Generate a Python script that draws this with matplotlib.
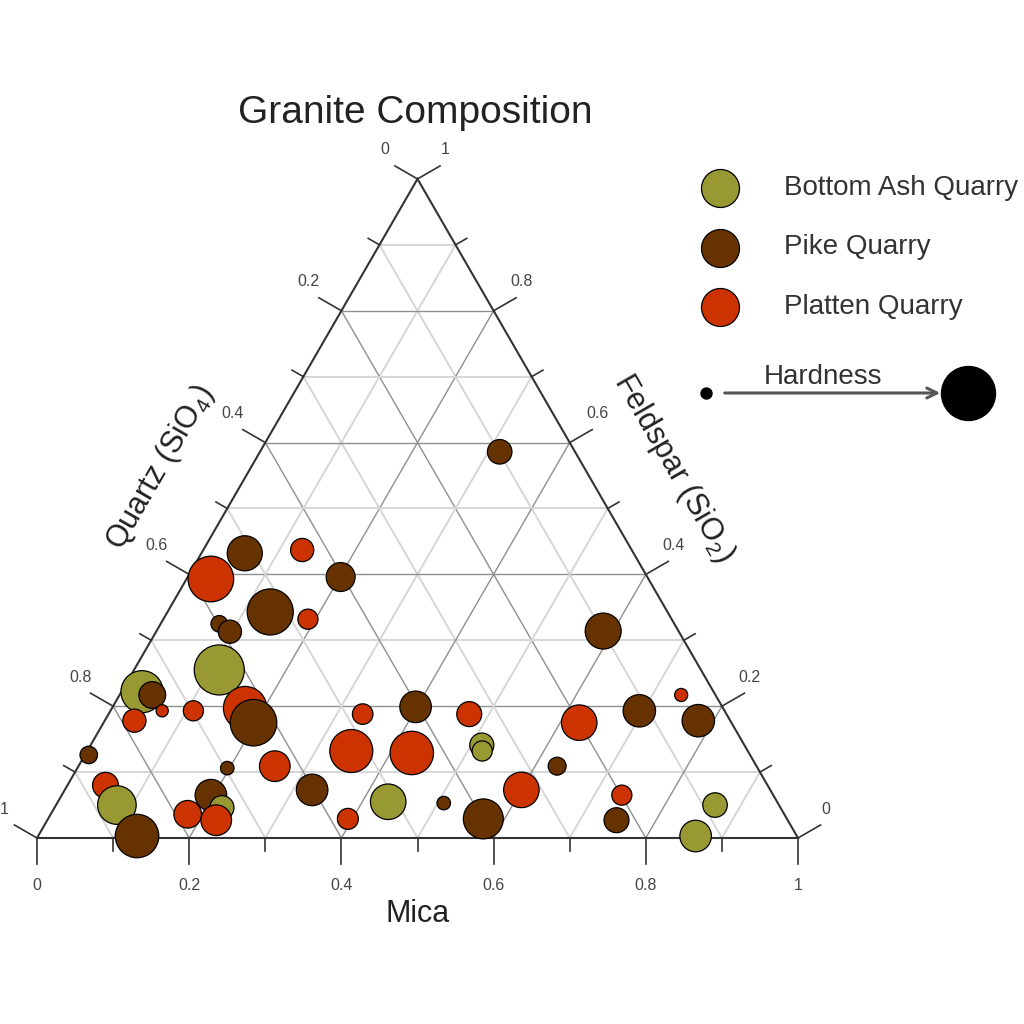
import numpy as np
import matplotlib.pyplot as plt

plt.rcParams['font.family'] = ['Liberation Sans', 'DejaVu Sans']
plt.rcParams['mathtext.fontset'] = 'custom'
plt.rcParams['mathtext.rm'] = 'Liberation Sans'
plt.rcParams['mathtext.default'] = 'regular'

# ternary data: mica and feldspar fractions (quartz = rest), hardness 0-10
ash_mica = [0.112, 0.027, 0.080, 0.220, 0.434, 0.514, 0.519, 0.866, 0.864]
ash_feld = [0.255, 0.222, 0.050, 0.046, 0.055, 0.141, 0.132, 0.050, 0.003]
ash_hard = [9.1, 7.3, 6.5, 3.2, 5.8, 3.2, 2.3, 3.3, 4.9]

pike_mica = [0.315, 0.057, 0.201, 0.135, 0.077, 0.097, 0.587, 0.043, 0.197, 0.398, 0.695,
             0.780, 0.005, 0.438, 0.629, 0.197, 0.325, 0.196, 0.508, 0.130, 0.572, 0.748]
pike_feld = [0.586, 0.432, 0.396, 0.343, 0.325, 0.313, 0.314, 0.217, 0.175, 0.199, 0.193,
             0.178, 0.126, 0.129, 0.109, 0.106, 0.073, 0.065, 0.053, 0.003, 0.029, 0.027]
pike_hard = [3.3, 5.7, 4.3, 8.2, 1.5, 3.0, 5.9, 3.8, 8.3, 4.9, 5.1,
             5.1, 1.7, 2.4, 1.8, 0.8, 4.9, 4.9, 0.8, 7.6, 6.8, 3.4]

plat_mica = [0.130, 0.032, 0.190, 0.068, 0.039, 0.109, 0.175, 0.334, 0.474, 0.625,
             0.738, 0.347, 0.428, 0.258, 0.050, 0.600, 0.736, 0.180, 0.222, 0.394]
plat_feld = [0.437, 0.393, 0.332, 0.193, 0.178, 0.193, 0.197, 0.188, 0.188, 0.175,
             0.217, 0.132, 0.129, 0.109, 0.080, 0.073, 0.065, 0.036, 0.027, 0.029]
plat_hard = [3.0, 8.1, 2.3, 0.5, 3.0, 2.3, 7.6, 2.4, 3.4, 5.8,
             0.7, 7.5, 7.6, 4.7, 3.6, 5.8, 2.3, 4.0, 4.7, 2.5]

groups = ['Bottom Ash Quarry', 'Pike Quarry', 'Platten Quarry']
colors = ['#999933', '#663300', '#cc3300']
ticks = [0, 0.2, 0.4, 0.6, 0.8, 1]

S3 = np.sqrt(3) / 2
PX = 761.0  # pixels per unit side


def tern(mica, feld):
    mica = np.asarray(mica, float)
    feld = np.asarray(feld, float)
    return mica + feld / 2, feld * S3


def msize(h):
    r = 5 + 2.2 * np.asarray(h, float)  # radius in px
    return (2 * r * 0.72) ** 2


def fig_xy(px, py):
    return px / 1024, 1 - py / 1024


fig = plt.figure(figsize=(10.24, 10.24), dpi=100)
ax = fig.add_axes([0, 0, 1, 1])
ax.set_xlim(-37 / PX, (1024 - 37) / PX)
ax.set_ylim(-186 / PX, (1024 - 186) / PX)
ax.axis('off')

# grid
for i in range(1, 10):
    v = i / 10
    if i % 2 == 0:
        gc, gw = '#8f8f8f', 1.0
    else:
        gc, gw = '#d6d6d6', 1.4
    for (m0, f0), (m1, f1) in [((0, v), (1 - v, v)), ((v, 0), (v, 1 - v)), ((1 - v, 0), (0, 1 - v))]:
        xs, ys = tern([m0, m1], [f0, f1])
        ax.plot(xs, ys, color=gc, lw=gw, zorder=1)

# triangle
xs, ys = tern([0, 1, 0, 0], [0, 0, 1, 0])
ax.plot(xs, ys, color='#333333', lw=1.5, zorder=2, solid_joinstyle='miter')

# ticks
tick_col = '#333333'
for i in range(11):
    v = i / 10
    L = (26 if i % 2 == 0 else 13) / PX
    # bottom: mica
    x, y = tern(v, 0)
    ax.plot([x, x], [y, y - L], color=tick_col, lw=1.2, zorder=2)
    # left: quartz
    x, y = tern(0, 1 - v)
    ax.plot([x, x - L * S3], [y, y + L * 0.5], color=tick_col, lw=1.2, zorder=2)
    # right: feldspar
    x, y = tern(1 - v, v)
    ax.plot([x, x + L * S3], [y, y + L * 0.5], color=tick_col, lw=1.2, zorder=2)

for t in ticks:
    lab = f'{t:g}'
    x, y = tern(t, 0)
    ax.text(x, y - 47 / PX, lab, ha='center', va='center', fontsize=11.5, color='#444444')
    x, y = tern(0, 1 - t)
    ax.text(x - 33 / PX, y + 29 / PX, lab, ha='center', va='center', fontsize=11.5, color='#444444')
    x, y = tern(1 - t, t)
    ax.text(x + 28 / PX, y + 29 / PX, lab, ha='center', va='center', fontsize=11.5, color='#444444')

# axis titles
x, y = tern(0.5, 0)
ax.text(x, y - 76 / PX, 'Mica', ha='center', va='center', fontsize=22, color='#222222')
fx, fy = fig_xy(160, 468)
fig.text(fx, fy, 'Quartz (SiO$_4$)', ha='center', va='center', rotation=60,
         rotation_mode='anchor', fontsize=22, color='#222222')
fx, fy = fig_xy(674, 468)
fig.text(fx, fy, 'Feldspar (SiO$_2$)', ha='center', va='center', rotation=-60,
         rotation_mode='anchor', fontsize=22, color='#222222')

fx, fy = fig_xy(415, 113)
fig.text(fx, fy, 'Granite Composition', ha='center', va='center', fontsize=28, color='#222222')

# points, drawn top to bottom
mica = np.concatenate([ash_mica, pike_mica, plat_mica])
feld = np.concatenate([ash_feld, pike_feld, plat_feld])
hard = np.concatenate([ash_hard, pike_hard, plat_hard])
cols = np.array([colors[0]] * len(ash_mica) + [colors[1]] * len(pike_mica) + [colors[2]] * len(plat_mica))
order = np.argsort(-feld, kind='stable')
x, y = tern(mica[order], feld[order])
ax.scatter(x, y, s=msize(hard[order]), c=cols[order], edgecolors='black', linewidths=0.9, zorder=3)

# legend
for k, (g, c) in enumerate(zip(groups, colors)):
    py = 188 + 59.5 * k
    fx, fy = fig_xy(720, py)
    ax.scatter([fx], [fy], s=(2 * 19 * 0.72) ** 2, color=c, edgecolors='black', linewidths=0.9,
               transform=fig.transFigure, clip_on=False, zorder=4)
    fx, fy = fig_xy(784, py)
    fig.text(fx, fy, g, ha='left', va='center', fontsize=20, color='#333333')

fx, fy = fig_xy(706, 393)
ax.scatter([fx], [fy], s=(2 * 5.5 * 0.72) ** 2, color='black', transform=fig.transFigure, clip_on=False)
fx, fy = fig_xy(968, 393)
ax.scatter([fx], [fy], s=(2 * 27 * 0.72) ** 2, color='black', transform=fig.transFigure, clip_on=False)
ax.annotate('', xy=fig_xy(943, 393), xytext=fig_xy(722, 393), xycoords='figure fraction',
            textcoords='figure fraction',
            arrowprops=dict(arrowstyle='->', color='#555555', lw=2.2, mutation_scale=18))
fx, fy = fig_xy(823, 377)
fig.text(fx, fy, 'Hardness', ha='center', va='center', fontsize=20, color='#333333')

fig.savefig('out.png', dpi=100, facecolor='white')
